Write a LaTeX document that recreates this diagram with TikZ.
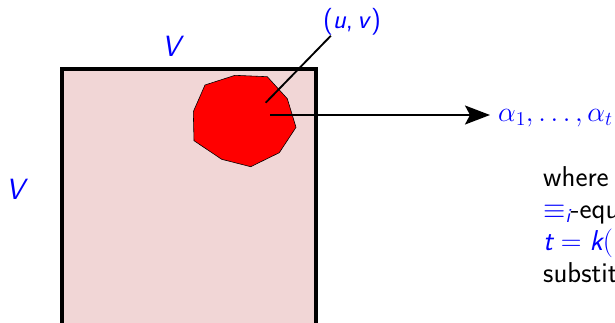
\RequirePackage{fix-cm}
\documentclass[tikz,border=0pt]{standalone}
\usepackage{fontspec}
\usepackage{amsmath}
\usepackage{xcolor}
\usepackage{tikz}
\usetikzlibrary{positioning, arrows.meta}

\definecolor{boxpink}{RGB}{241,214,214}
\tikzset{
  lbl/.style={text=blue, inner sep=0pt, font=\fontsize{25}{30}\selectfont\sffamily},
  note/.style={inner sep=0pt, anchor=base west, font=\fontsize{24.5}{30}\selectfont\sffamily},
}

\begin{document}
\begin{tikzpicture}[x=0.03cm, y=-0.03cm]
  \useasboundingbox (0,0) rectangle (615,322);
  \clip (0,0) rectangle (615,322);

  % the table and the cell
  \draw[fill=boxpink, line width=2.8pt] (62,69) rectangle (316,340);
  \draw[fill=red, line width=0.5pt]
    (205,85) -- (235,75.3) -- (267.3,76.7) -- (287.3,98.7) -- (296,127.3)
    -- (279.3,152.7) -- (250.7,166.7) -- (221.7,159.3) -- (194,140.7)
    -- (193.3,111.7) -- cycle;
  \coordinate (uvpt) at (265.7,102.7);
  \coordinate (src) at (270,115);

  % labels
  \node[lbl] (vtop) at (171,46) {\itshape V};
  \node[lbl] (vleft) at (15,189) {\itshape V};
  \node[lbl, font=\fontsize{23}{28}\selectfont\sffamily] (uv) at (352,22)
    {(\textit{u},\,\textit{v})};
  \node[lbl, anchor=west, inner xsep=0.24cm, font=\fontsize{24}{29}\selectfont]
    (alphas) at (490,118) {$\alpha_1,\ldots,\alpha_t$};

  \node[note] (where) at (543,186) {where};
  \node[note] (equ) at (543,218) {\textcolor{blue}{$\equiv_{\text{\itshape i}}$}-equ};
  \node[note, text=blue] (tk) at (543,250) {$\text{\itshape t} = \text{\itshape k}($};
  \node[note] (subst) at (543,282) {substit};

  % connectors
  \draw[line width=1.6pt] (uv.213) -- (uvpt);
  \draw[line width=1.6pt, -{Stealth[length=0.75cm, width=0.57cm, inset=0.15cm]}]
    (src) -- (src -| alphas.west);
\end{tikzpicture}
\end{document}
